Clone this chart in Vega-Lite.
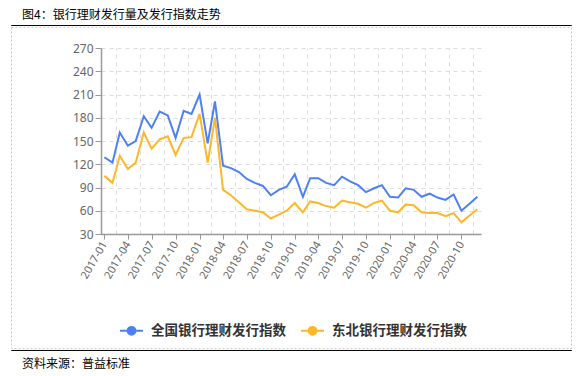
{
  "$schema": "https://vega.github.io/schema/vega-lite/v6.json",
  "padding": {"left": 10, "top": 8, "right": 0, "bottom": 0},
  "spacing": 0,
  "config": {
    "font": "Noto Sans CJK SC",
    "view": {"stroke": null},
    "title": {"font": "Noto Sans CJK SC", "fontWeight": "normal", "fontSize": 12, "color": "#000000"}
  },
  "vconcat": [
    {
      "title": {"text": "图4：银行理财发行量及发行指数走势", "anchor": "start", "frame": "group", "dx": 11, "offset": -6, "baseline": "alphabetic"},
      "width": 560,
      "height": 0.01,
      "view": {"stroke": "#000000", "strokeWidth": 1},
      "data": {"values": []},
      "mark": "rule",
      "encoding": {}
    },
    {
      "width": 560,
      "height": 321,
      "view": {"stroke": "#c8c8c8", "strokeDash": [2, 2], "strokeWidth": 1},
      "data": {"values": [
        {"month": "2017-01", "series": "全国银行理财发行指数", "value": 129},
        {"month": "2017-02", "series": "全国银行理财发行指数", "value": 122},
        {"month": "2017-03", "series": "全国银行理财发行指数", "value": 161},
        {"month": "2017-04", "series": "全国银行理财发行指数", "value": 144},
        {"month": "2017-05", "series": "全国银行理财发行指数", "value": 150},
        {"month": "2017-06", "series": "全国银行理财发行指数", "value": 182},
        {"month": "2017-07", "series": "全国银行理财发行指数", "value": 167},
        {"month": "2017-08", "series": "全国银行理财发行指数", "value": 188},
        {"month": "2017-09", "series": "全国银行理财发行指数", "value": 183},
        {"month": "2017-10", "series": "全国银行理财发行指数", "value": 154},
        {"month": "2017-11", "series": "全国银行理财发行指数", "value": 189},
        {"month": "2017-12", "series": "全国银行理财发行指数", "value": 185},
        {"month": "2018-01", "series": "全国银行理财发行指数", "value": 210},
        {"month": "2018-02", "series": "全国银行理财发行指数", "value": 147},
        {"month": "2018-03", "series": "全国银行理财发行指数", "value": 201},
        {"month": "2018-04", "series": "全国银行理财发行指数", "value": 118},
        {"month": "2018-05", "series": "全国银行理财发行指数", "value": 115},
        {"month": "2018-06", "series": "全国银行理财发行指数", "value": 110},
        {"month": "2018-07", "series": "全国银行理财发行指数", "value": 101},
        {"month": "2018-08", "series": "全国银行理财发行指数", "value": 96},
        {"month": "2018-09", "series": "全国银行理财发行指数", "value": 92},
        {"month": "2018-10", "series": "全国银行理财发行指数", "value": 80},
        {"month": "2018-11", "series": "全国银行理财发行指数", "value": 87},
        {"month": "2018-12", "series": "全国银行理财发行指数", "value": 91},
        {"month": "2019-01", "series": "全国银行理财发行指数", "value": 107},
        {"month": "2019-02", "series": "全国银行理财发行指数", "value": 78},
        {"month": "2019-03", "series": "全国银行理财发行指数", "value": 102},
        {"month": "2019-04", "series": "全国银行理财发行指数", "value": 102},
        {"month": "2019-05", "series": "全国银行理财发行指数", "value": 96},
        {"month": "2019-06", "series": "全国银行理财发行指数", "value": 93},
        {"month": "2019-07", "series": "全国银行理财发行指数", "value": 104},
        {"month": "2019-08", "series": "全国银行理财发行指数", "value": 98},
        {"month": "2019-09", "series": "全国银行理财发行指数", "value": 93},
        {"month": "2019-10", "series": "全国银行理财发行指数", "value": 84},
        {"month": "2019-11", "series": "全国银行理财发行指数", "value": 89},
        {"month": "2019-12", "series": "全国银行理财发行指数", "value": 93},
        {"month": "2020-01", "series": "全国银行理财发行指数", "value": 78},
        {"month": "2020-02", "series": "全国银行理财发行指数", "value": 77},
        {"month": "2020-03", "series": "全国银行理财发行指数", "value": 89},
        {"month": "2020-04", "series": "全国银行理财发行指数", "value": 87},
        {"month": "2020-05", "series": "全国银行理财发行指数", "value": 78},
        {"month": "2020-06", "series": "全国银行理财发行指数", "value": 82},
        {"month": "2020-07", "series": "全国银行理财发行指数", "value": 77},
        {"month": "2020-08", "series": "全国银行理财发行指数", "value": 74},
        {"month": "2020-09", "series": "全国银行理财发行指数", "value": 81},
        {"month": "2020-10", "series": "全国银行理财发行指数", "value": 60},
        {"month": "2020-11", "series": "全国银行理财发行指数", "value": 69},
        {"month": "2020-12", "series": "全国银行理财发行指数", "value": 78},
        {"month": "2017-01", "series": "东北银行理财发行指数", "value": 105},
        {"month": "2017-02", "series": "东北银行理财发行指数", "value": 96},
        {"month": "2017-03", "series": "东北银行理财发行指数", "value": 131},
        {"month": "2017-04", "series": "东北银行理财发行指数", "value": 114},
        {"month": "2017-05", "series": "东北银行理财发行指数", "value": 122},
        {"month": "2017-06", "series": "东北银行理财发行指数", "value": 161},
        {"month": "2017-07", "series": "东北银行理财发行指数", "value": 140},
        {"month": "2017-08", "series": "东北银行理财发行指数", "value": 152},
        {"month": "2017-09", "series": "东北银行理财发行指数", "value": 156},
        {"month": "2017-10", "series": "东北银行理财发行指数", "value": 132},
        {"month": "2017-11", "series": "东北银行理财发行指数", "value": 154},
        {"month": "2017-12", "series": "东北银行理财发行指数", "value": 155},
        {"month": "2018-01", "series": "东北银行理财发行指数", "value": 185},
        {"month": "2018-02", "series": "东北银行理财发行指数", "value": 122},
        {"month": "2018-03", "series": "东北银行理财发行指数", "value": 180},
        {"month": "2018-04", "series": "东北银行理财发行指数", "value": 87},
        {"month": "2018-05", "series": "东北银行理财发行指数", "value": 80},
        {"month": "2018-06", "series": "东北银行理财发行指数", "value": 71},
        {"month": "2018-07", "series": "东北银行理财发行指数", "value": 62},
        {"month": "2018-08", "series": "东北银行理财发行指数", "value": 60},
        {"month": "2018-09", "series": "东北银行理财发行指数", "value": 58},
        {"month": "2018-10", "series": "东北银行理财发行指数", "value": 50},
        {"month": "2018-11", "series": "东北银行理财发行指数", "value": 55},
        {"month": "2018-12", "series": "东北银行理财发行指数", "value": 60},
        {"month": "2019-01", "series": "东北银行理财发行指数", "value": 70},
        {"month": "2019-02", "series": "东北银行理财发行指数", "value": 58},
        {"month": "2019-03", "series": "东北银行理财发行指数", "value": 72},
        {"month": "2019-04", "series": "东北银行理财发行指数", "value": 70},
        {"month": "2019-05", "series": "东北银行理财发行指数", "value": 66},
        {"month": "2019-06", "series": "东北银行理财发行指数", "value": 64},
        {"month": "2019-07", "series": "东北银行理财发行指数", "value": 73},
        {"month": "2019-08", "series": "东北银行理财发行指数", "value": 71},
        {"month": "2019-09", "series": "东北银行理财发行指数", "value": 69},
        {"month": "2019-10", "series": "东北银行理财发行指数", "value": 64},
        {"month": "2019-11", "series": "东北银行理财发行指数", "value": 70},
        {"month": "2019-12", "series": "东北银行理财发行指数", "value": 73},
        {"month": "2020-01", "series": "东北银行理财发行指数", "value": 60},
        {"month": "2020-02", "series": "东北银行理财发行指数", "value": 58},
        {"month": "2020-03", "series": "东北银行理财发行指数", "value": 68},
        {"month": "2020-04", "series": "东北银行理财发行指数", "value": 67},
        {"month": "2020-05", "series": "东北银行理财发行指数", "value": 58},
        {"month": "2020-06", "series": "东北银行理财发行指数", "value": 57},
        {"month": "2020-07", "series": "东北银行理财发行指数", "value": 57},
        {"month": "2020-08", "series": "东北银行理财发行指数", "value": 53},
        {"month": "2020-09", "series": "东北银行理财发行指数", "value": 57},
        {"month": "2020-10", "series": "东北银行理财发行指数", "value": 45},
        {"month": "2020-11", "series": "东北银行理财发行指数", "value": 54},
        {"month": "2020-12", "series": "东北银行理财发行指数", "value": 62}
      ]},
      "layer": [
        {
          "mark": {"type": "line", "strokeWidth": 2},
          "encoding": {
            "x": {
              "field": "month", "type": "temporal",
              "scale": {"type": "utc", "domain": [{"year": 2016, "month": 12, "date": 19, "utc": true}, {"year": 2020, "month": 12, "date": 15, "utc": true}], "range": [90, 470]},
              "axis": {
                "orient": "bottom", "offset": -114, "title": null, "grid": false,
                "values": [
                  {"year": 2017, "month": 1, "date": 1, "utc": true}, {"year": 2017, "month": 4, "date": 1, "utc": true}, {"year": 2017, "month": 7, "date": 1, "utc": true}, {"year": 2017, "month": 10, "date": 1, "utc": true},
                  {"year": 2018, "month": 1, "date": 1, "utc": true}, {"year": 2018, "month": 4, "date": 1, "utc": true}, {"year": 2018, "month": 7, "date": 1, "utc": true}, {"year": 2018, "month": 10, "date": 1, "utc": true},
                  {"year": 2019, "month": 1, "date": 1, "utc": true}, {"year": 2019, "month": 4, "date": 1, "utc": true}, {"year": 2019, "month": 7, "date": 1, "utc": true}, {"year": 2019, "month": 10, "date": 1, "utc": true},
                  {"year": 2020, "month": 1, "date": 1, "utc": true}, {"year": 2020, "month": 4, "date": 1, "utc": true}, {"year": 2020, "month": 7, "date": 1, "utc": true}, {"year": 2020, "month": 10, "date": 1, "utc": true}
                ],
                "labelExpr": "utcFormat(datum.value, '%Y-%m')",
                "labelOverlap": false, "labelFlush": false,
                "labelAngle": -60, "labelAlign": "right", "labelBaseline": "middle", "labelFontSize": 11, "labelColor": "#666666", "labelPadding": 3, "labelFont": "Noto Sans",
                "domainColor": "#999999", "domainWidth": 1.5, "tickColor": "#999999", "tickSize": 5, "tickWidth": 1
              }
            },
            "y": {
              "field": "value", "type": "quantitative",
              "scale": {"domain": [30, 270], "range": [207, 21], "zero": false, "nice": false},
              "axis": {
                "orient": "left", "offset": -90, "title": null,
                "values": [30, 60, 90, 120, 150, 180, 210, 240, 270],
                "grid": true, "gridColor": "#dcdcdc", "gridDash": [4, 4], "gridWidth": 1,
                "labelFontSize": 12, "labelColor": "#666666", "labelPadding": 2, "labelFont": "Noto Sans",
                "domainColor": "#999999", "domainWidth": 1.5, "tickColor": "#999999", "tickSize": 6, "tickWidth": 1
              }
            },
            "color": {
              "field": "series", "type": "nominal",
              "scale": {"domain": ["全国银行理财发行指数", "东北银行理财发行指数"], "range": ["#4d80f2", "#fcb72a"]},
              "legend": {
                "orient": "none", "legendX": 108, "legendY": 293, "direction": "horizontal", "title": null,
                "symbolType": "M-1,0H1M0.34,0A0.34,0.34,0,1,1,-0.34,0A0.34,0.34,0,1,1,0.34,0M0.22,0A0.22,0.22,0,1,1,-0.22,0A0.22,0.22,0,1,1,0.22,0M0.1,0A0.1,0.1,0,1,1,-0.1,0A0.1,0.1,0,1,1,0.1,0",
                "symbolSize": 529, "symbolStrokeWidth": 2,
                "labelFontSize": 13.5, "labelFontWeight": "bold", "labelColor": "#333333", "labelOffset": 7, "columnPadding": 11
              }
            }
          }
        },
        {
          "mark": {"type": "line", "strokeOpacity": 0},
          "encoding": {
            "x": {
              "field": "month", "type": "temporal",
              "axis": {
                "orient": "top", "title": null, "labels": false, "ticks": false, "domain": false,
                "grid": true, "gridColor": "#dcdcdc", "gridDash": [4, 4], "gridWidth": 1,
                "values": [
                  {"year": 2017, "month": 2, "date": 15, "utc": true}, {"year": 2017, "month": 5, "date": 16, "utc": true}, {"year": 2017, "month": 8, "date": 16, "utc": true}, {"year": 2017, "month": 11, "date": 16, "utc": true},
                  {"year": 2018, "month": 2, "date": 15, "utc": true}, {"year": 2018, "month": 5, "date": 16, "utc": true}, {"year": 2018, "month": 8, "date": 16, "utc": true}, {"year": 2018, "month": 11, "date": 16, "utc": true},
                  {"year": 2019, "month": 2, "date": 15, "utc": true}, {"year": 2019, "month": 5, "date": 16, "utc": true}, {"year": 2019, "month": 8, "date": 16, "utc": true}, {"year": 2019, "month": 11, "date": 16, "utc": true},
                  {"year": 2020, "month": 2, "date": 15, "utc": true}, {"year": 2020, "month": 5, "date": 16, "utc": true}, {"year": 2020, "month": 8, "date": 16, "utc": true}, {"year": 2020, "month": 11, "date": 16, "utc": true}
                ]
              }
            },
            "y": {"field": "value", "type": "quantitative"},
            "detail": {"field": "series", "type": "nominal"}
          }
        }
      ],
      "resolve": {"axis": {"x": "independent"}}
    },
    {
      "title": {"text": "资料来源：普益标准", "orient": "bottom", "anchor": "start", "frame": "group", "dx": 11, "offset": 9, "baseline": "top"},
      "width": 560,
      "height": 0.01,
      "view": {"stroke": "#000000", "strokeWidth": 1},
      "data": {"values": []},
      "mark": "rule",
      "encoding": {}
    }
  ]
}
